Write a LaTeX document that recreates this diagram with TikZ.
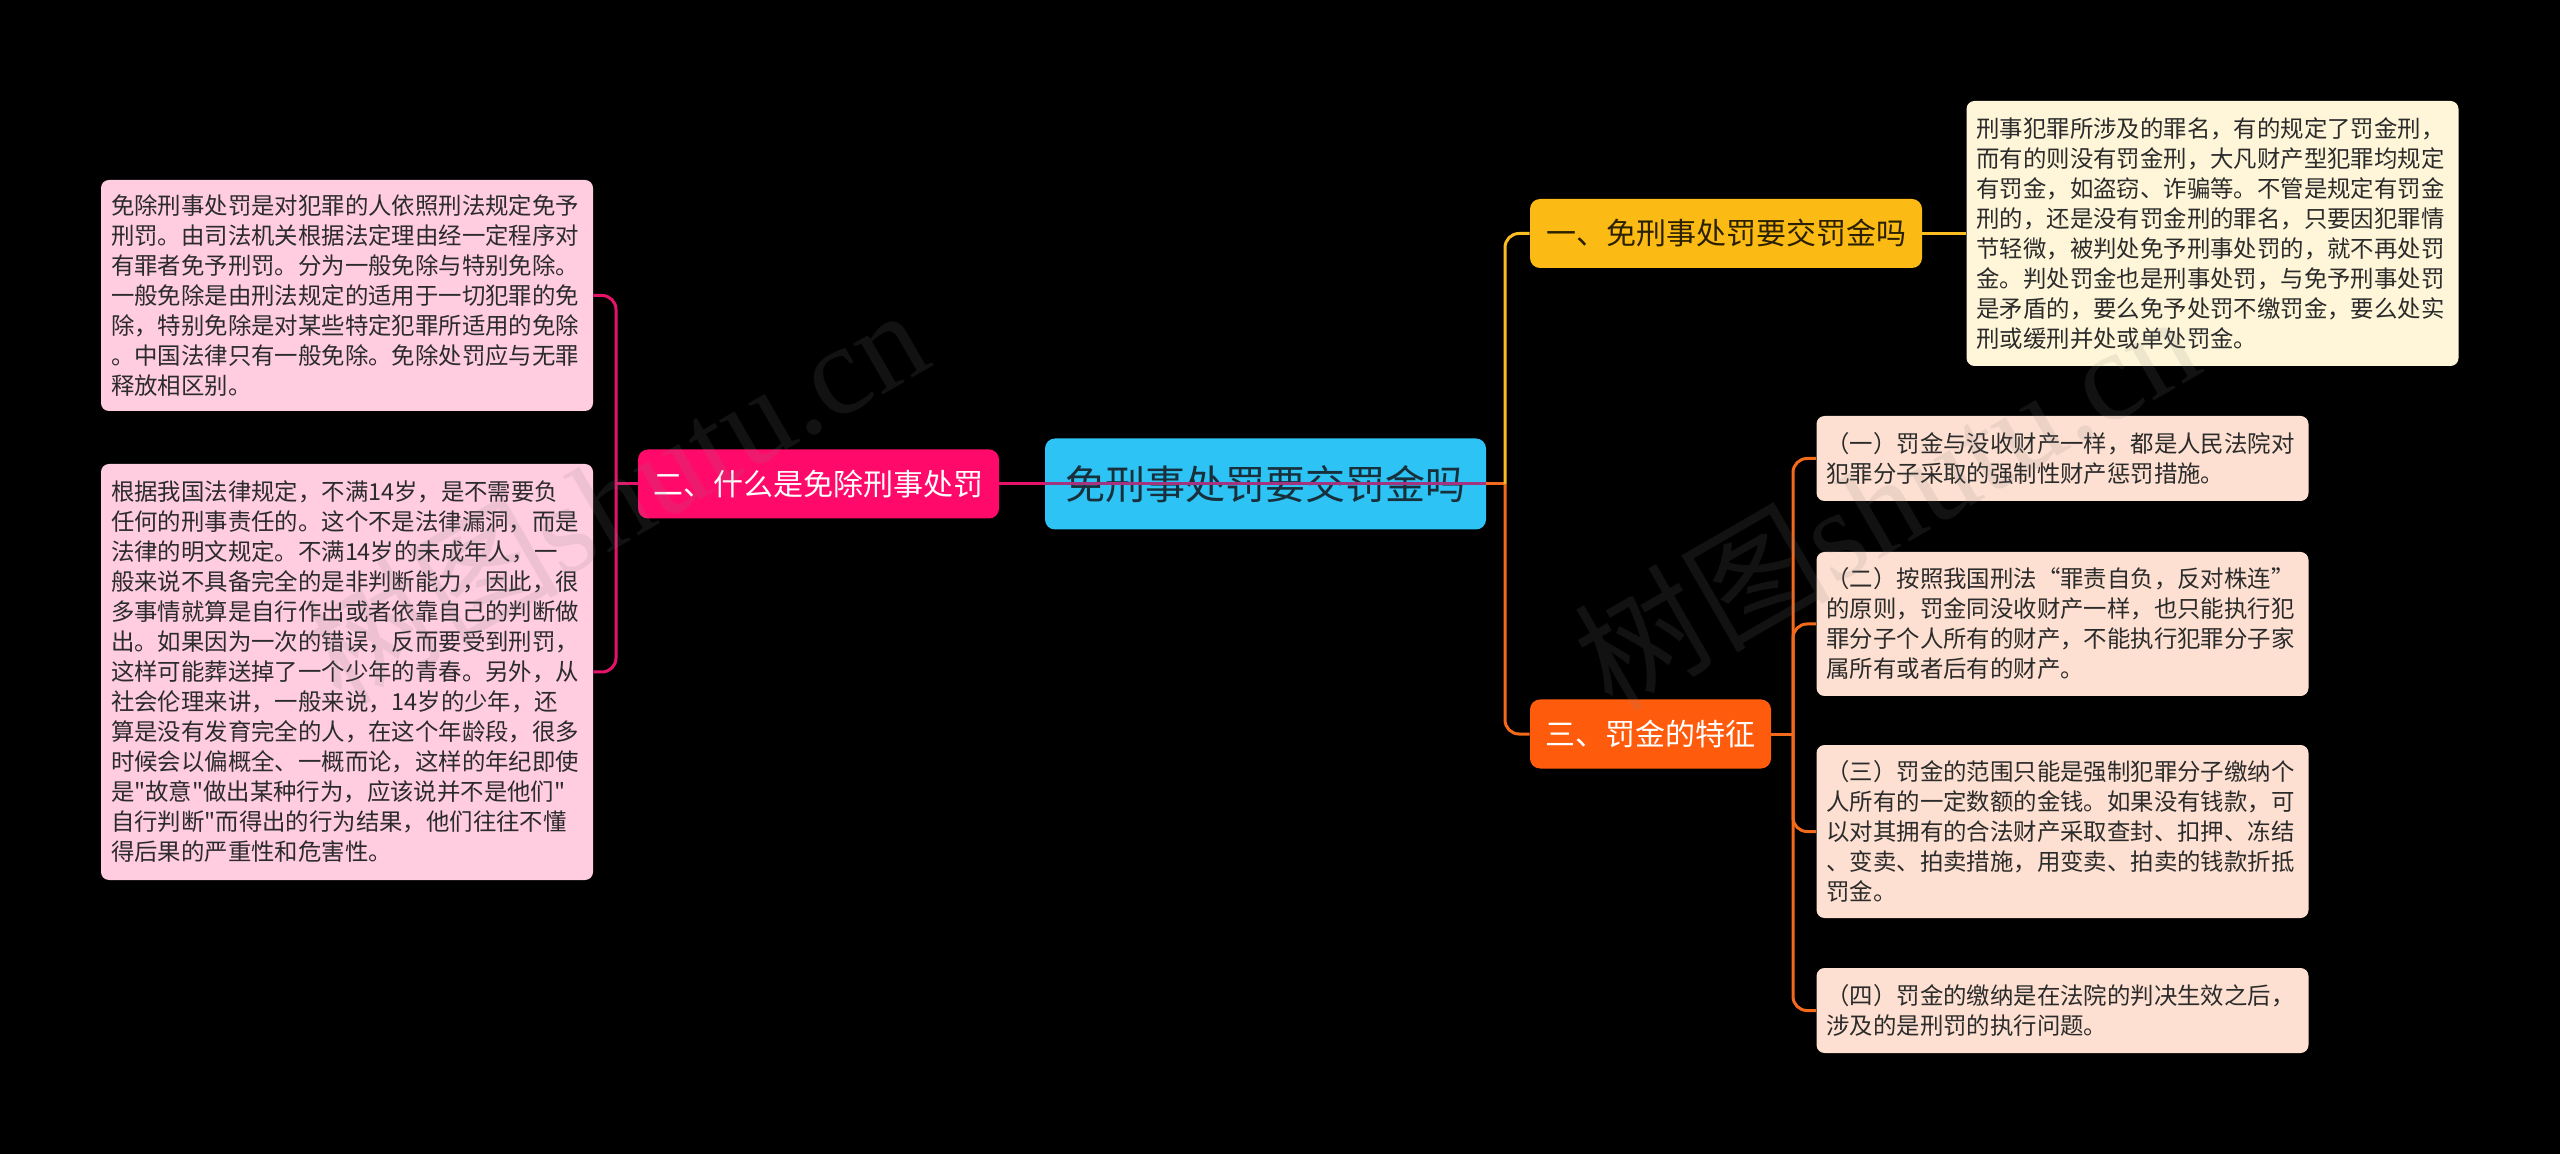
\documentclass[tikz,border=0pt]{standalone}
\usepackage{fontspec}
\setmainfont{Noto Sans CJK SC}[Ligatures=TeXOff]
\newfontfamily\wmserif{Liberation Serif}
\newfontfamily\wmcjk{Noto Sans CJK SC}
\definecolor{rootfill}{HTML}{2DC3F4}
\definecolor{roottext}{HTML}{17303C}
\definecolor{pinknode}{HTML}{FF0A6A}
\definecolor{pinkleaffill}{HTML}{FFCCE0}
\definecolor{pinkline}{HTML}{E5136A}
\definecolor{yellownode}{HTML}{FCBB14}
\definecolor{yellowtext}{HTML}{2B2100}
\definecolor{creamfill}{HTML}{FFF6D9}
\definecolor{yellowline}{HTML}{F9BD22}
\definecolor{orangenode}{HTML}{FF5B0D}
\definecolor{peachfill}{HTML}{FDE0D1}
\definecolor{orangeline}{HTML}{F36A1B}
\definecolor{purpleline}{HTML}{A3347F}
\definecolor{leaftext}{HTML}{2B2B2B}
\definecolor{wmgray}{HTML}{808080}
\tikzset{
  branchbox/.style={rounded corners=5pt, inner sep=0pt, align=center,
    font=\fontsize{15pt}{18pt}\selectfont, minimum height=34.5pt},
  rootbox/.style={branchbox, fill=rootfill, text=roottext, minimum width=220.5pt,
    minimum height=45.5pt, font=\fontsize{20pt}{24pt}\selectfont},
  pinkbranch/.style={branchbox, fill=pinknode, text=white, minimum width=180.5pt},
  yellowbranch/.style={branchbox, fill=yellownode, text=yellowtext, minimum width=196pt},
  orangebranch/.style={branchbox, fill=orangenode, text=white, minimum width=120.5pt},
  leafbox/.style={rounded corners=4pt, text width=236pt, align=left, inner xsep=5pt,
    inner ysep=0pt, font=\fontsize{11.7pt}{15pt}\selectfont, text=leaftext},
  pinkleaf/.style={leafbox, fill=pinkleaffill},
  creamleaf/.style={leafbox, fill=creamfill},
  peachleaf/.style={leafbox, fill=peachfill},
  conn/.style={line width=1.5pt},
  pinkc/.style={conn, draw=pinkline},
  yellowc/.style={conn, draw=yellowline},
  orangec/.style={conn, draw=orangeline},
  purplec/.style={conn, draw=purpleline},
  watermark/.style={text=wmgray, opacity=0.14, text opacity=0.14, inner sep=0pt, rotate=30}
}
\begin{document}
\begin{tikzpicture}[x=0.5pt,y=-0.5pt]
\fill[black] (0,0) rectangle (2560,1154);
\useasboundingbox (0,0) rectangle (2560,1154);

% nodes
\node[rootbox] (root) at (1265.5,484) {免刑事处罚要交罚金吗};
\node[pinkbranch] (b2) at (818.5,484) {二、什么是免除刑事处罚};
\node[yellowbranch] (b1) at (1726,233.5) {一、免刑事处罚要交罚金吗};
\node[orangebranch] (b3) at (1650.5,734) {三、罚金的特征};

\node[pinkleaf, minimum height=115.5pt] (L1) at (347,295.5) {免除刑事处罚是对犯罪的人依照刑法规定免予\\刑罚。由司法机关根据法定理由经一定程序对\\有罪者免予刑罚。分为一般免除与特别免除。\\一般免除是由刑法规定的适用于一切犯罪的免\\除，特别免除是对某些特定犯罪所适用的免除\\。中国法律只有一般免除。免除处罚应与无罪\\释放相区别。};

\node[pinkleaf, minimum height=208pt] (L2) at (347,672) {根据我国法律规定，不满14岁，是不需要负\\任何的刑事责任的。这个不是法律漏洞，而是\\法律的明文规定。不满14岁的未成年人，一\\般来说不具备完全的是非判断能力，因此，很\\多事情就算是自行作出或者依靠自己的判断做\\出。如果因为一次的错误，反而要受到刑罚，\\这样可能葬送掉了一个少年的青春。另外，从\\社会伦理来讲，一般来说，14岁的少年，还\\算是没有发育完全的人，在这个年龄段，很多\\时候会以偏概全、一概而论，这样的年纪即使\\是"故意"做出某种行为，应该说并不是他们"\\自行判断"而得出的行为结果，他们往往不懂\\得后果的严重性和危害性。};

\node[creamleaf, minimum height=132.5pt] (R1) at (2212.5,233.5) {刑事犯罪所涉及的罪名，有的规定了罚金刑，\\而有的则没有罚金刑，大凡财产型犯罪均规定\\有罚金，如盗窃、诈骗等。不管是规定有罚金\\刑的，还是没有罚金刑的罪名，只要因犯罪情\\节轻微，被判处免予刑事处罚的，就不再处罚\\金。判处罚金也是刑事处罚，与免予刑事处罚\\是矛盾的，要么免予处罚不缴罚金，要么处实\\刑或缓刑并处或单处罚金。};

\node[peachleaf, minimum height=42.5pt] (R2a) at (2062.5,458.5) {（一）罚金与没收财产一样，都是人民法院对\\犯罪分子采取的强制性财产惩罚措施。};
\node[peachleaf, minimum height=72pt] (R2b) at (2062.5,624) {（二）按照我国刑法“罪责自负，反对株连”\\的原则，罚金同没收财产一样，也只能执行犯\\罪分子个人所有的财产，不能执行犯罪分子家\\属所有或者后有的财产。};
\node[peachleaf, minimum height=86.5pt] (R2c) at (2062.5,831.5) {（三）罚金的范围只能是强制犯罪分子缴纳个\\人所有的一定数额的金钱。如果没有钱款，可\\以对其拥有的合法财产采取查封、扣押、冻结\\、变卖、拍卖措施，用变卖、拍卖的钱款折抵\\罚金。};
\node[peachleaf, minimum height=42.5pt] (R2d) at (2062.5,1010.5) {（四）罚金的缴纳是在法院的判决生效之后，\\涉及的是刑罚的执行问题。};

% junctions
\coordinate (pj) at (616,484);
\coordinate (rj) at (1505,484);
\coordinate (oj) at (1793,734);

% connectors
\draw[pinkc] (b2.west) -- (pj);
\draw[pinkc, rounded corners=7pt] (pj) |- (L1.east);
\draw[pinkc, rounded corners=7pt] (pj) |- (L2.east);
\draw[pinkc] (b2.east) -- (root.west);
\draw[purplec] (root.west) -- (root.east);
\draw[orangec] (root.east) -- (rj);
\draw[yellowc, rounded corners=7pt] (rj) |- (b1.west);
\draw[orangec, rounded corners=7pt] (rj) |- (b3.west);
\draw[yellowc] (b1.east) -- (R1.west);
\draw[orangec] (b3.east) -- (oj);
\draw[orangec, rounded corners=7pt] (oj) |- (R2a.west);
\draw[orangec, rounded corners=7pt] (oj) |- (R2b.west);
\draw[orangec, rounded corners=7pt] (oj) |- (R2c.west);
\draw[orangec, rounded corners=7pt] (oj) |- (R2d.west);

% watermarks
\node[watermark] (wmL) at (614,494) {\fontsize{64pt}{70pt}\selectfont\wmcjk 树图\wmserif shutu.cn};
\node[watermark] (wmR) at (1885,500) {\fontsize{64pt}{70pt}\selectfont\wmcjk 树图\wmserif shutu.cn};
\end{tikzpicture}
\end{document}
